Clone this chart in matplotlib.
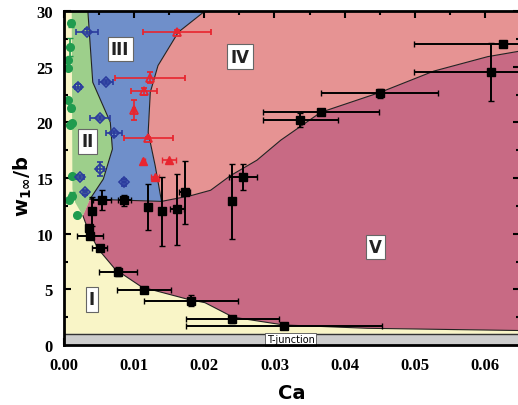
import matplotlib
matplotlib.use('Agg')
import matplotlib.pyplot as plt
from matplotlib.ticker import MultipleLocator

# ---- data ----
# black squares: regime boundaries
ca_k = [0.0040, 0.0036, 0.0037, 0.0051, 0.0054, 0.0086, 0.0120, 0.0140, 0.0161, 0.0172, 0.0240,
        0.0255, 0.0337, 0.0366, 0.0450, 0.0609, 0.0626, 0.0077, 0.0114, 0.0181, 0.0240, 0.0314]
w_k = [12.0, 10.5, 9.8, 8.7, 13.0, 13.0, 12.4, 12.0, 12.2, 13.7, 12.9,
       15.1, 20.2, 20.97, 22.6, 24.5, 27.05, 6.6, 4.94, 3.98, 2.3, 1.68]
ca_k_err = [0, 0.0003, 0.0018, 0.0011, 0.0013, 0.0009, 0, 0, 0.001, 0.0008, 0,
            0.002, 0.0054, 0.0083, 0.0083, 0.011, 0.0127, 0.0027, 0.0038, 0.0067, 0.0066, 0.014]
w_k_err = [1.3, 0.3, 0.2, 0.3, 0.9, 0.5, 2.1, 3.1, 3.2, 2.85, 3.4,
           1.2, 0.6, 0.2, 0.4, 2.6, 0.2, 0.4, 0.2, 0.5, 0.3, 0.1]

# green circles
ca_g = [0.0010, 0.0009, 0.0006, 0.0005, 0.0006, 0.0010, 0.0012, 0.0008, 0.0011, 0.0011, 0.0007, 0.0019]
w_g = [28.9, 26.8, 25.6, 24.9, 22.0, 21.3, 19.9, 19.8, 15.2, 13.4, 13.0, 11.7]
w_g_err = [0.3, 0.8, 0, 0, 0, 0.3, 0, 0, 0, 0.3, 0, 0]

# blue diamonds
ca_b = [0.0033, 0.0020, 0.0060, 0.0051, 0.0071, 0.0052, 0.0023, 0.0030, 0.0086]
w_b = [28.15, 23.2, 23.6, 20.4, 19.0, 15.8, 15.1, 13.7, 14.6]
ca_b_err = [0.0016, 0.0004, 0.0010, 0.0014, 0.0011, 0.0005, 0.0006, 0.0003, 0.0003]
w_b_err = [0.2, 0.2, 0.2, 0.2, 0.2, 0.6, 0.2, 0.2, 0.3]

# red triangles (open / filled)
ca_r = [0.0161, 0.0123, 0.0114, 0.0100, 0.0120]
w_r = [28.15, 24.0, 22.8, 21.1, 18.6]
ca_r_err = [0.0048, 0.0050, 0.0018, 0.0001, 0.0035]
w_r_err = [0.1, 0.5, 0.3, 0.9, 0.1]
ca_rf = [0.0113, 0.0150, 0.0130]
w_rf = [16.5, 16.6, 15.1]
ca_rf_err = [0.0002, 0.0010, 0.0006]

# regime boundary curves
iv_x = [0.0139, 0.0180, 0.0209, 0.0237, 0.0275, 0.0309, 0.0366, 0.0451, 0.0527, 0.0604, 0.0650]
iv_y = [12.9, 13.4, 13.9, 15.2, 16.6, 18.4, 20.9, 22.7, 24.6, 25.9, 26.4]
i_x = [0.0027, 0.0034, 0.0049, 0.0073, 0.0111, 0.0177, 0.0201, 0.0241, 0.0313, 0.0433, 0.0650]
i_y = [11.6, 10.4, 8.6, 6.8, 5.2, 4.1, 3.8, 2.5, 1.8, 1.5, 1.3]
ii_x = [0.0034, 0.0041, 0.0066, 0.0069, 0.0056, 0.0037]
ii_y = [30.0, 23.6, 20.0, 17.6, 14.9, 13.1]
iii_x = [0.0201, 0.0163, 0.0134, 0.0123, 0.0120, 0.0130, 0.0139]
iii_y = [30.0, 28.1, 25.1, 22.7, 19.1, 16.1, 12.9]
gl_x = [0.0011, 0.0012, 0.0016, 0.0027]
gl_y = [30.0, 14.0, 12.8, 11.6]

labels = ['I', 'II', 'III', 'IV', 'V']
label_x = [0.0040, 0.0034, 0.0080, 0.0251, 0.0444]
label_y = [4.1, 18.3, 26.6, 25.9, 8.8]

c_yel, c_grn, c_blu, c_iv, c_v = '#f9f5c7', '#9dcf8b', '#6f8fca', '#e69393', '#c86a84'

fig = plt.figure(figsize=(5.18, 4.06), dpi=100)
ax = fig.add_axes([64/518, 60/406, 456/518, 334/406])
ax.set_xlim(0, 0.065)
ax.set_ylim(0, 30)

ax.set_facecolor(c_yel)
# green
gx = gl_x + ii_x[::-1]
gy = gl_y + ii_y[::-1]
ax.fill(gx, gy, color=c_grn, lw=0, zorder=1)
# blue
bx = ii_x + iii_x[::-1]
by = ii_y + iii_y[::-1]
ax.fill(bx, by, color=c_blu, lw=0, zorder=1)
# IV
fx = iii_x + iv_x + [0.065]
fy = iii_y + iv_y + [30]
ax.fill(fx, fy, color=c_iv, lw=0, zorder=1)
# V
vx = [0.0037] + iv_x + i_x[::-1]
vy = [13.1] + iv_y + i_y[::-1]
ax.fill(vx, vy, color=c_v, lw=0, zorder=1)

for xs, ys in [(iv_x, iv_y), (i_x, i_y), (ii_x, ii_y), (iii_x, iii_y)]:
    ax.plot(xs, ys, color='#222222', lw=0.8, zorder=2)
ax.plot([0.0037, 0.0139], [13.1, 12.9], color='#222222', lw=0.8, zorder=2)

# T-junction band
ax.axhspan(0, 1, color='#cdcdcd', zorder=2)
ax.axhline(1, color='#333333', lw=1.0, zorder=2)
ax.text(0.0323, 0.5, 'T-junction', fontsize=7, ha='center', va='center', zorder=6,
        bbox=dict(boxstyle='square,pad=0.15', fc='white', ec='#555555', lw=0.6))

ax.errorbar(ca_g, w_g, yerr=w_g_err, fmt='o', color='#1f9b4e', ms=5.5, capsize=2, lw=1.2, zorder=3)
ax.errorbar(ca_b, w_b, xerr=ca_b_err, yerr=w_b_err, fmt='D', mfc='none', mec='#2b3c9e',
            ecolor='#2b3c9e', ms=5, mew=1.2, capsize=2.5, lw=1.2, zorder=3)
ax.errorbar(ca_r, w_r, xerr=ca_r_err, yerr=w_r_err, fmt='^', mfc='none', mec='#e8252f',
            ecolor='#e8252f', ms=6, mew=1.3, capsize=2.5, lw=1.2, zorder=3)
ax.errorbar(ca_rf, w_rf, xerr=ca_rf_err, fmt='^', color='#e8252f', ms=6, capsize=2.5, lw=1.2, zorder=3)
ax.errorbar(ca_k, w_k, xerr=ca_k_err, yerr=w_k_err, fmt='s', color='black', ms=6,
            capsize=2.5, lw=1.4, zorder=4)

for t, x, y in zip(labels, label_x, label_y):
    ax.text(x, y, t, fontsize=12, fontweight='bold', ha='center', va='center', zorder=6,
            color='#222222',
            bbox=dict(boxstyle='square,pad=0.2', fc='white', ec='#666666', lw=0.8))

ax.xaxis.set_major_locator(MultipleLocator(0.01))
ax.xaxis.set_minor_locator(MultipleLocator(0.005))
ax.yaxis.set_major_locator(MultipleLocator(5))
ax.yaxis.set_minor_locator(MultipleLocator(2.5))
ax.xaxis.set_major_formatter(plt.FormatStrFormatter('%.2f'))
ax.tick_params(which='both', direction='in', top=True, right=True, width=1.5, zorder=7)
ax.tick_params(which='major', length=5)
ax.tick_params(which='minor', length=3)
ax.tick_params(axis='x', which='major', pad=9)
ax.tick_params(axis='y', which='major', pad=8)
for lab in ax.get_xticklabels() + ax.get_yticklabels():
    lab.set_fontfamily('Liberation Serif')
    lab.set_fontweight('bold')
    lab.set_fontsize(12)
for s in ax.spines.values():
    s.set_linewidth(2)
    s.set_zorder(8)

ax.set_xlabel('Ca', fontsize=14, fontweight='bold')
ax.set_ylabel(r'w$_{\mathbf{1\infty}}$/b', fontsize=14, fontweight='bold')
ax.xaxis.set_label_coords(0.5, -0.115)
ax.yaxis.set_label_coords(-0.066, 0.48)

fig.savefig('out.png', dpi=100)
